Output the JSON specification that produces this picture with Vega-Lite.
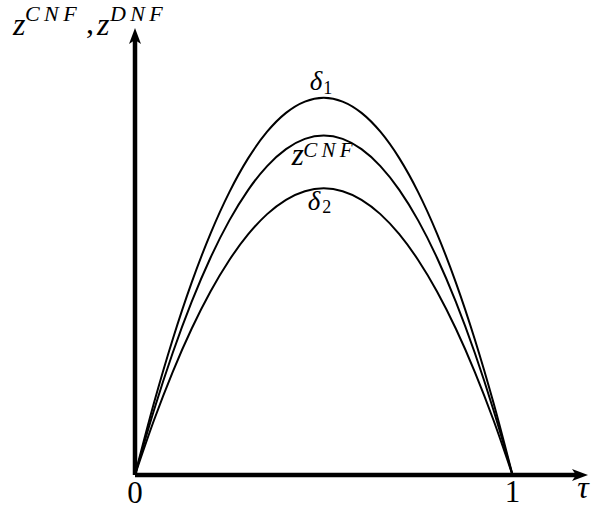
{
  "$schema": "https://vega.github.io/schema/vega-lite/v6.json",
  "width": 453,
  "height": 447,
  "autosize": {"type": "none"},
  "padding": {"left": 135, "top": 28, "right": 9, "bottom": 36},
  "background": "white",
  "config": {
    "view": {"stroke": null},
    "text": {"font": "'Liberation Serif', 'DejaVu Serif', serif", "color": "black"}
  },
  "datasets": {
    "curves": [
      {"tau": 0.0, "d1": 0.0, "z": 0.0, "d2": 0.0},
      {"tau": 0.05, "d1": 0.19, "z": 0.171, "d2": 0.1444},
      {"tau": 0.1, "d1": 0.36, "z": 0.324, "d2": 0.2736},
      {"tau": 0.15, "d1": 0.51, "z": 0.459, "d2": 0.3876},
      {"tau": 0.2, "d1": 0.64, "z": 0.576, "d2": 0.4864},
      {"tau": 0.25, "d1": 0.75, "z": 0.675, "d2": 0.57},
      {"tau": 0.3, "d1": 0.84, "z": 0.756, "d2": 0.6384},
      {"tau": 0.35, "d1": 0.91, "z": 0.819, "d2": 0.6916},
      {"tau": 0.4, "d1": 0.96, "z": 0.864, "d2": 0.7296},
      {"tau": 0.45, "d1": 0.99, "z": 0.891, "d2": 0.7524},
      {"tau": 0.5, "d1": 1.0, "z": 0.9, "d2": 0.76},
      {"tau": 0.55, "d1": 0.99, "z": 0.891, "d2": 0.7524},
      {"tau": 0.6, "d1": 0.96, "z": 0.864, "d2": 0.7296},
      {"tau": 0.65, "d1": 0.91, "z": 0.819, "d2": 0.6916},
      {"tau": 0.7, "d1": 0.84, "z": 0.756, "d2": 0.6384},
      {"tau": 0.75, "d1": 0.75, "z": 0.675, "d2": 0.57},
      {"tau": 0.8, "d1": 0.64, "z": 0.576, "d2": 0.4864},
      {"tau": 0.85, "d1": 0.51, "z": 0.459, "d2": 0.3876},
      {"tau": 0.9, "d1": 0.36, "z": 0.324, "d2": 0.2736},
      {"tau": 0.95, "d1": 0.19, "z": 0.171, "d2": 0.1444},
      {"tau": 1.0, "d1": 0.0, "z": 0.0, "d2": 0.0}
    ],
    "guides": [
      {"name": "xaxis", "tau": 0, "v": 0, "tau2": 1.175},
      {"name": "yaxis", "tau": 0, "v": 0, "v2": 1.16},
      {"name": "origin", "tau": 0, "v": 0},
      {"name": "one", "tau": 1, "v": 0},
      {"name": "xtip", "tau": 1.2, "v": 0},
      {"name": "ytip", "tau": 0, "v": 1.185}
    ]
  },
  "encoding": {
    "x": {"field": "tau", "type": "quantitative", "scale": {"domain": [0, 1.2], "nice": false, "zero": false}, "axis": null},
    "y": {"field": "v", "type": "quantitative", "scale": {"domain": [0, 1.185], "nice": false, "zero": false}, "axis": null}
  },
  "layer": [
    {
      "data": {"name": "curves"},
      "transform": [{"fold": ["d1", "z", "d2"], "as": ["series", "v"]}],
      "mark": {"type": "line", "interpolate": "monotone", "strokeWidth": 2, "color": "black"},
      "encoding": {"detail": {"field": "series"}}
    },
    {
      "data": {"name": "guides"},
      "transform": [{"filter": "datum.name === 'xaxis'"}],
      "mark": {"type": "rule", "strokeWidth": 4.5, "color": "black"},
      "encoding": {"x2": {"field": "tau2"}}
    },
    {
      "data": {"name": "guides"},
      "transform": [{"filter": "datum.name === 'yaxis'"}],
      "mark": {"type": "rule", "strokeWidth": 4.5, "color": "black"},
      "encoding": {"y2": {"field": "v2"}}
    },
    {
      "data": {"name": "guides"},
      "transform": [{"filter": "datum.name === 'xtip'"}],
      "mark": {"type": "point", "filled": true, "opacity": 1, "color": "black", "size": 256, "strokeWidth": 0,
               "shape": "M0,0 L-2,-0.75 L-1.5,0 L-2,0.75 Z"}
    },
    {
      "data": {"name": "guides"},
      "transform": [{"filter": "datum.name === 'ytip'"}],
      "mark": {"type": "point", "filled": true, "opacity": 1, "color": "black", "size": 256, "strokeWidth": 0,
               "shape": "M0,0 L-0.75,2 L0,1.5 L0.75,2 Z"}
    },
    {
      "data": {"name": "guides"},
      "transform": [{"filter": "datum.name === 'origin'"}],
      "mark": {"type": "text", "text": "0", "fontSize": 31, "align": "center", "baseline": "alphabetic", "dy": 28}
    },
    {
      "data": {"name": "guides"},
      "transform": [{"filter": "datum.name === 'one'"}],
      "mark": {"type": "text", "text": "1", "fontSize": 31, "align": "center", "baseline": "alphabetic", "dy": 27}
    },
    {
      "data": {"name": "guides"},
      "transform": [{"filter": "datum.name === 'xtip'"}],
      "mark": {"type": "text", "text": "τ", "fontSize": 32, "fontStyle": "italic", "align": "center", "baseline": "alphabetic", "dx": -5, "dy": 23}
    },
    {
      "data": {"name": "guides"},
      "transform": [{"filter": "datum.name === 'ytip'"}],
      "mark": {"type": "text", "text": "z", "fontSize": 32, "fontStyle": "italic", "align": "left", "baseline": "alphabetic", "dx": -122, "dy": 7}
    },
    {
      "data": {"name": "guides"},
      "transform": [{"filter": "datum.name === 'ytip'"}],
      "mark": {"type": "text", "text": "C\u2009N\u2009F", "fontSize": 22, "fontStyle": "italic", "align": "left", "baseline": "alphabetic", "dx": -110, "dy": -7}
    },
    {
      "data": {"name": "guides"},
      "transform": [{"filter": "datum.name === 'ytip'"}],
      "mark": {"type": "text", "text": ",", "fontSize": 32, "align": "left", "baseline": "alphabetic", "dx": -49, "dy": 5}
    },
    {
      "data": {"name": "guides"},
      "transform": [{"filter": "datum.name === 'ytip'"}],
      "mark": {"type": "text", "text": "z", "fontSize": 32, "fontStyle": "italic", "align": "left", "baseline": "alphabetic", "dx": -38, "dy": 7}
    },
    {
      "data": {"name": "guides"},
      "transform": [{"filter": "datum.name === 'ytip'"}],
      "mark": {"type": "text", "text": "D\u2009N\u2009F", "fontSize": 22, "fontStyle": "italic", "align": "left", "baseline": "alphabetic", "dx": -25, "dy": -7}
    },
    {
      "data": {"name": "curves"},
      "transform": [{"fold": ["d1", "z", "d2"], "as": ["series", "v"]}, {"filter": "datum.series === 'd1' && datum.tau === 0.5"}],
      "mark": {"type": "text", "text": "δ", "fontSize": 27, "fontStyle": "italic", "align": "left", "baseline": "alphabetic", "dx": -14, "dy": -8}
    },
    {
      "data": {"name": "curves"},
      "transform": [{"fold": ["d1", "z", "d2"], "as": ["series", "v"]}, {"filter": "datum.series === 'd1' && datum.tau === 0.5"}],
      "mark": {"type": "text", "text": "1", "fontSize": 18, "align": "left", "baseline": "alphabetic", "dx": -0.5, "dy": -4}
    },
    {
      "data": {"name": "curves"},
      "transform": [{"fold": ["d1", "z", "d2"], "as": ["series", "v"]}, {"filter": "datum.series === 'z' && datum.tau === 0.5"}],
      "mark": {"type": "text", "text": "z", "fontSize": 31, "fontStyle": "italic", "align": "left", "baseline": "alphabetic", "dx": -32, "dy": 29}
    },
    {
      "data": {"name": "curves"},
      "transform": [{"fold": ["d1", "z", "d2"], "as": ["series", "v"]}, {"filter": "datum.series === 'z' && datum.tau === 0.5"}],
      "mark": {"type": "text", "text": "C\u2009N\u2009F", "fontSize": 21, "fontStyle": "italic", "align": "left", "baseline": "alphabetic", "dx": -20.5, "dy": 21}
    },
    {
      "data": {"name": "curves"},
      "transform": [{"fold": ["d1", "z", "d2"], "as": ["series", "v"]}, {"filter": "datum.series === 'd2' && datum.tau === 0.5"}],
      "mark": {"type": "text", "text": "δ", "fontSize": 27, "fontStyle": "italic", "align": "left", "baseline": "alphabetic", "dx": -16, "dy": 22}
    },
    {
      "data": {"name": "curves"},
      "transform": [{"fold": ["d1", "z", "d2"], "as": ["series", "v"]}, {"filter": "datum.series === 'd2' && datum.tau === 0.5"}],
      "mark": {"type": "text", "text": "2", "fontSize": 18, "align": "left", "baseline": "alphabetic", "dx": -1.5, "dy": 25}
    }
  ]
}
